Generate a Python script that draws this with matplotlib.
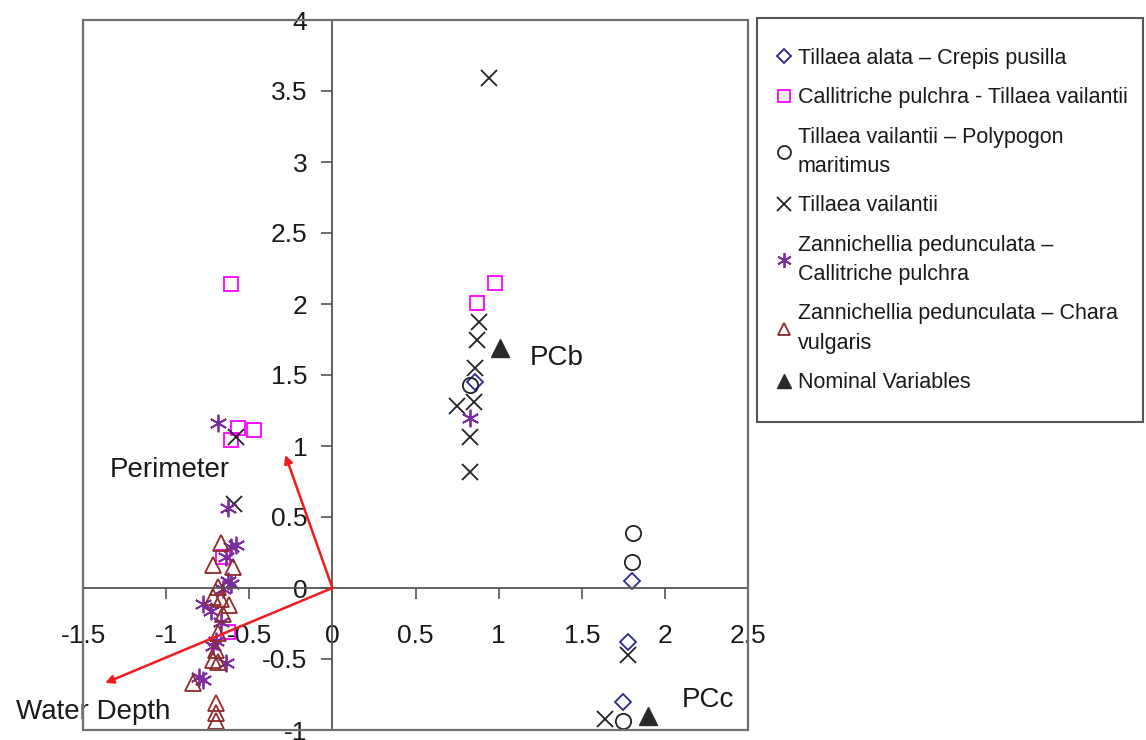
import matplotlib.pyplot as plt
from matplotlib.patches import Rectangle

plt.rcParams['font.family'] = ['Liberation Sans', 'DejaVu Sans']
plt.rcParams['axes.unicode_minus'] = False

# Species groups (PC1 = x, PC2 = y)
diamond_x = [1.80, 1.78, 1.75, 0.86]
diamond_y = [0.05, -0.38, -0.80, 1.45]

square_x = [-0.61, -0.57, -0.47, -0.61, 0.98, 0.87, -0.63, -0.66]
square_y = [2.14, 1.13, 1.11, 1.04, 2.15, 2.01, -0.31, 0.22]

circle_x = [1.81, 1.80, 1.75, 0.83]
circle_y = [0.39, 0.18, -0.94, 1.43]

cross_x = [0.94, 0.88, 0.87, 0.86, 0.85, 0.75, 0.83, 0.83, -0.58, -0.59, 1.78, 1.64]
cross_y = [3.59, 1.87, 1.75, 1.55, 1.31, 1.28, 1.06, 0.82, 1.06, 0.59, -0.47, -0.92]

aster_x = [-0.69, -0.63, -0.61, -0.58, -0.64, -0.61, -0.66, -0.78, -0.73, -0.67,
           -0.70, -0.72, -0.64, -0.78, -0.80, 0.83, -0.63]
aster_y = [1.16, 0.56, 0.29, 0.30, 0.22, 0.03, -0.01, -0.11, -0.16, -0.24,
           -0.37, -0.41, -0.53, -0.65, -0.63, 1.20, 0.05]

tri_x = [-0.67, -0.72, -0.60, -0.69, -0.72, -0.67, -0.62, -0.66, -0.69, -0.70,
         -0.72, -0.69, -0.84, -0.70, -0.70, -0.70]
tri_y = [0.32, 0.16, 0.15, 0.01, -0.06, -0.08, -0.12, -0.18, -0.32, -0.44,
         -0.51, -0.52, -0.67, -0.81, -0.88, -0.94]

nominal_x = [1.01, 1.90]
nominal_y = [1.69, -0.90]
nominal_names = ["PCb", "PCc"]
nominal_label_xy = [(1.19, 1.62), (2.10, -0.79)]

# environmental vectors
vec_names = ["Perimeter", "Water Depth"]
vec_x = [-0.283, -1.367]
vec_y = [0.937, -0.669]
vec_label_xy = [(-0.98, 0.83), (-1.44, -0.87)]

xticks = [-1.5, -1, -0.5, 0, 0.5, 1, 1.5, 2, 2.5]
xtick_labels = ["-1.5", "-1", "-0.5", "0", "0.5", "1", "1.5", "2", "2.5"]
yticks = [-1, -0.5, 0, 0.5, 1, 1.5, 2, 2.5, 3, 3.5, 4]
ytick_labels = ["-1", "-0.5", "0", "0.5", "1", "1.5", "2", "2.5", "3", "3.5", "4"]

W, H = 1146, 740
fig = plt.figure(figsize=(W / 100, H / 100), dpi=100)
ax = fig.add_axes([83 / W, 10 / H, 665 / W, 710 / H])

ms = 11
h1, = ax.plot(diamond_x, diamond_y, 'D', ms=ms * 0.75, mfc='none', mec='#2b2b8c', mew=1.3, ls='none',
              label="Tillaea alata \u2013 Crepis pusilla")
h2, = ax.plot(square_x, square_y, 's', ms=ms * 0.9, mfc='none', mec='#ff00ff', mew=1.3, ls='none',
              label="Callitriche pulchra - Tillaea vailantii")
h3, = ax.plot(circle_x, circle_y, 'o', ms=ms, mfc='none', mec='#222222', mew=1.3, ls='none',
              label="Tillaea vailantii \u2013 Polypogon\nmaritimus")
h4, = ax.plot(cross_x, cross_y, 'x', ms=ms * 1.05, mec='#222222', mew=1.3, ls='none',
              label="Tillaea vailantii")
h5, = ax.plot(aster_x, aster_y, marker=(6, 2, 0), ms=ms * 1.15, mec='#7a2b9e', mew=1.3, ls='none',
              label="Zannichellia pedunculata \u2013\nCallitriche pulchra")
h6, = ax.plot(tri_x, tri_y, '^', ms=ms, mfc='none', mec='#8e2a2a', mew=1.3, ls='none',
              label="Zannichellia pedunculata \u2013 Chara\nvulgaris")
h7, = ax.plot(nominal_x, nominal_y, '^', ms=ms * 1.15, mfc='#2a2a2a', mec='#2a2a2a', ls='none',
              label="Nominal Variables")

for name, (tx, ty) in zip(nominal_names, nominal_label_xy):
    ax.text(tx, ty, name, fontsize=20, ha='left', va='center', color='#1a1a1a')

for name, vx, vy, (tx, ty) in zip(vec_names, vec_x, vec_y, vec_label_xy):
    ax.annotate("", xy=(vx, vy), xytext=(0, 0),
                arrowprops=dict(arrowstyle='-|>', color='#ee1c1c', lw=1.8, mutation_scale=12,
                                shrinkA=0, shrinkB=0))
    ax.text(tx, ty, name, fontsize=20, ha='center', va='center', color='#1a1a1a')

ax.set_xlim(-1.5, 2.5)
ax.set_ylim(-1, 4)

for side in ['top', 'right']:
    ax.spines[side].set_visible(False)
ax.spines['left'].set_position(('data', 0))
ax.spines['bottom'].set_position(('data', 0))
for side in ['left', 'bottom']:
    ax.spines[side].set_color('#555555')
    ax.spines[side].set_linewidth(1.3)
ax.add_patch(Rectangle((0, 0), 1, 1, transform=ax.transAxes, fill=False,
                       edgecolor='#707070', lw=1.6, clip_on=False, zorder=5))

ax.set_xticks(xticks)
ax.set_xticklabels(xtick_labels)
ax.set_yticks(yticks)
ax.set_yticklabels(ytick_labels)
ax.tick_params(axis='x', direction='out', length=8, width=1.2, color='#555555', pad=18,
               labelsize=19, labelcolor='#1a1a1a')
ax.tick_params(axis='y', direction='out', length=8, width=1.2, color='#555555', pad=10,
               labelsize=19, labelcolor='#1a1a1a')

# legend box drawn separately so the entries can sit where they do in the original
fig.patches.append(Rectangle((757 / W, 1 - 422 / H), 386 / W, 404 / H,
                             transform=fig.transFigure, fill=False,
                             edgecolor='#555555', lw=1.5))
leg = fig.legend(handles=[h1, h2, h3, h4, h5, h6, h7], loc='upper left',
                 bbox_to_anchor=(775 / W, 1 - 48 / H), bbox_transform=fig.transFigure,
                 fontsize=15.5, frameon=False, borderpad=0, labelspacing=0.85,
                 handlelength=0.8, handletextpad=0.25, borderaxespad=0, markerscale=0.85)
for t in leg.get_texts():
    t.set_linespacing(1.53)
    t.set_color('#1a1a1a')

fig.savefig("out.png", dpi=100)
